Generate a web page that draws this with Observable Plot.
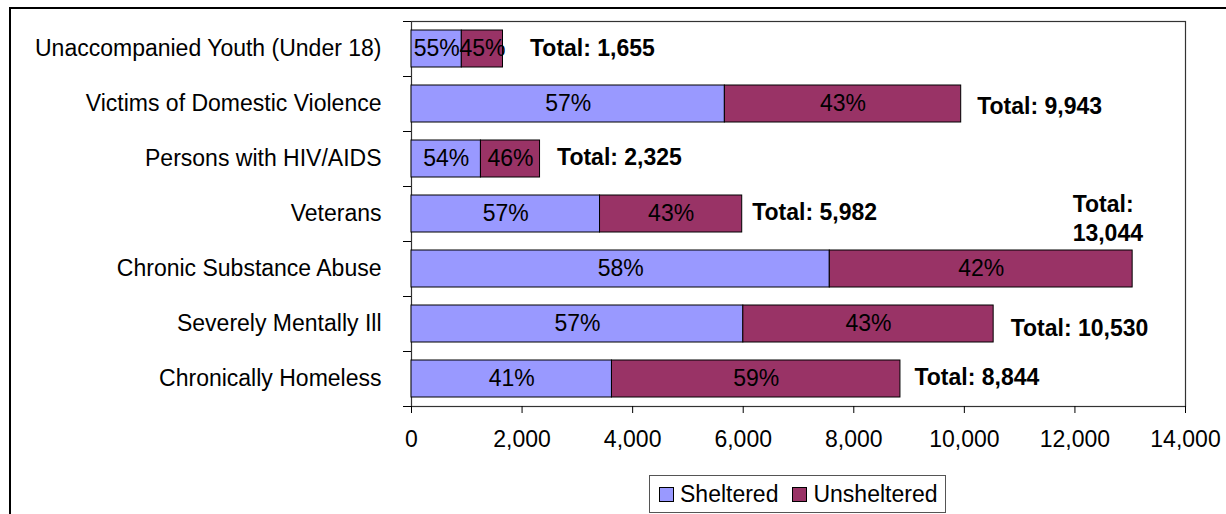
<!DOCTYPE html>
<html>
<head>
<meta charset="utf-8">
<script src="https://cdn.jsdelivr.net/npm/d3@7"></script>
<script src="https://cdn.jsdelivr.net/npm/@observablehq/plot@0.6"></script>
<style>
  html, body { margin: 0; padding: 0; background: #fff; overflow: hidden; }
  #wrap { position: relative; width: 1226px; height: 514px; overflow: hidden; font-family: "Liberation Sans", Arial, sans-serif; }
  #outer { position: absolute; left: 9px; top: 7px; width: 1300px; height: 600px; border: 2px solid #000; box-sizing: border-box; }
  #chart { position: absolute; left: 0; top: 0; }
  #legend { position: absolute; left: 649px; top: 475px; width: 297px; height: 38px; border: 1px solid #555; box-sizing: border-box; background: #fff;
            display: flex; align-items: center; font-size: 23px; color: #000; }
  .item { display: flex; align-items: center; margin-left: 9px; }
  .sw { width: 13px; height: 13px; border: 1px solid #000; margin-right: 6px; }
</style>
</head>
<body>
<div id="wrap">
  <div id="outer"></div>
  <div id="chart"></div>
  <div id="legend"></div>
</div>
<script>
// ---- Data ----
const categories = [
  "Unaccompanied Youth (Under 18)",
  "Victims of Domestic Violence",
  "Persons with HIV/AIDS",
  "Veterans",
  "Chronic Substance Abuse",
  "Severely Mentally Ill",
  "Chronically Homeless"
];
const sheltered   = [910, 5668, 1256, 3410, 7566, 6002, 3626];
const unsheltered = [745, 4275, 1069, 2572, 5478, 4528, 5218];
const shelteredPct   = ["55%", "57%", "54%", "57%", "58%", "57%", "41%"];
const unshelteredPct = ["45%", "43%", "46%", "43%", "42%", "43%", "59%"];
const totalLabels = ["Total: 1,655", "Total: 9,943", "Total: 2,325", "Total: 5,982", "Total:\n13,044", "Total: 10,530", "Total: 8,844"];
const totals = [1655, 9943, 2325, 5982, 13044, 10530, 8844];
const series = ["Sheltered", "Unsheltered"];
const seriesColors = ["#9999FF", "#993366"];
const xTicks = [0, 2000, 4000, 6000, 8000, 10000, 12000, 14000];

// Label placement nudges (pixels) for the total annotations, as placed in the original
const totalNudge = [[27, -2], [16, 1], [17, -3], [10, -3], [-60, -52], [17, 3], [14, -3]];

// ---- Build tables ----
const rows = [];
categories.forEach((c, i) => {
  rows.push({category: c, status: "Sheltered", value: sheltered[i], pct: shelteredPct[i]});
  rows.push({category: c, status: "Unsheltered", value: unsheltered[i], pct: unshelteredPct[i]});
});
const totalRows = categories.map((c, i) => ({category: c, total: totals[i], label: totalLabels[i], dx: totalNudge[i][0], dy: totalNudge[i][1]}));

const W = 1226, H = 470, mT = 21, mB = 64, mL = 411, mR = 41;
const step = (H - mT - mB) / categories.length;

const totalMarks = totalRows.map(r => Plot.text([r], {
  x: "total", y: "category", text: "label", textAnchor: "start",
  dx: r.dx, dy: r.dy, fontWeight: "bold", lineHeight: 1.27, fill: "#000"
}));

const chart = Plot.plot({
  width: W, height: H,
  marginTop: mT, marginBottom: mB, marginLeft: mL, marginRight: mR,
  style: {fontFamily: "'Liberation Sans', Arial, sans-serif", fontSize: "23px", color: "#000", background: "transparent"},
  x: {domain: [0, 14000], ticks: xTicks},
  y: {domain: categories, paddingInner: 0.32, paddingOuter: 0.16},
  color: {domain: series, range: seriesColors},
  marks: [
    Plot.frame({stroke: "#333", strokeWidth: 1.2}),
    Plot.barX(rows, Plot.stackX({x: "value", y: "category", fill: "status", stroke: "#000", strokeWidth: 1, inset: 0})),
    Plot.textX(rows, Plot.stackX({x: "value", y: "category", z: "status", text: "pct", fill: "#000"})),
    ...totalMarks,
    Plot.axisX({ticks: xTicks, tickSize: 7, tickPadding: 17, tickFormat: d3.format(","), label: null, stroke: "#000", fontSize: 23}),
    Plot.axisY({tickSize: 0, tickPadding: 30, label: null, fontSize: 23}),
    Plot.axisY(categories, {tickSize: 8, tickFormat: () => "", label: null, dy: -step / 2, stroke: "#000"}),
    Plot.axisY([categories[categories.length - 1]], {tickSize: 8, tickFormat: () => "", label: null, dy: step / 2, stroke: "#000"})
  ]
});
document.getElementById("chart").appendChild(chart);

// ---- Legend ----
const legend = document.getElementById("legend");
series.forEach((s, i) => {
  const item = document.createElement("div");
  item.className = "item";
  if (i > 0) item.style.marginLeft = "14px";
  const sw = document.createElement("div");
  sw.className = "sw";
  sw.style.background = seriesColors[i];
  const t = document.createElement("span");
  t.textContent = s;
  item.appendChild(sw); item.appendChild(t);
  legend.appendChild(item);
});
</script>
</body>
</html>
